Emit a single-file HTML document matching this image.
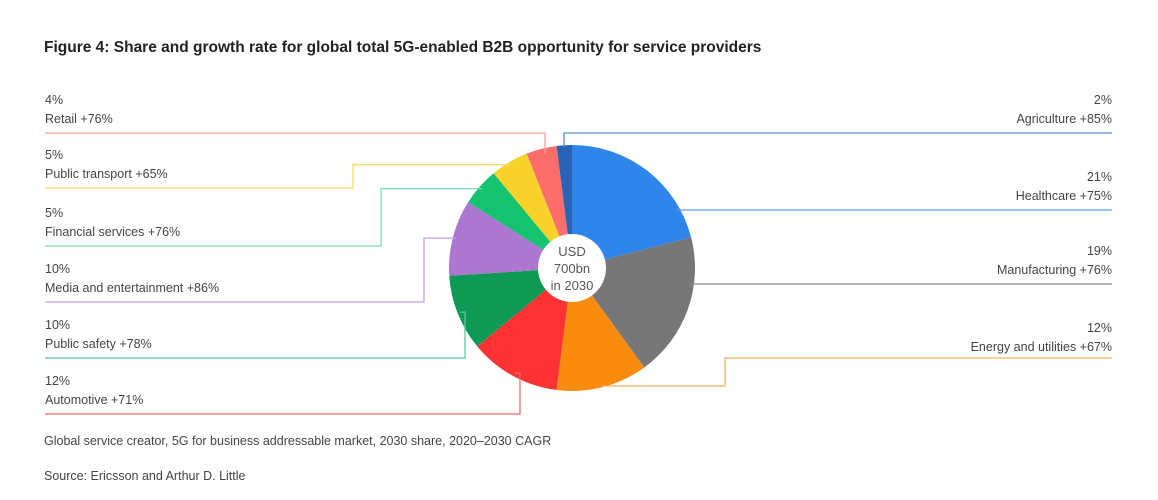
<!DOCTYPE html>
<html><head><meta charset="utf-8"><style>
body{margin:0;background:#fff;width:1158px;height:495px;overflow:hidden;font-family:"Liberation Sans",sans-serif}
svg text{font-family:"Liberation Sans",sans-serif;fill:#444;font-size:12.5px}
</style></head><body>
<svg width="1158" height="495">
<text x="44" y="52" style="font-size:15.5px;font-weight:bold;fill:#222">Figure 4: Share and growth rate for global total 5G-enabled B2B opportunity for service providers</text>
<g id="pie"></g>
<circle cx="572" cy="268" r="34" fill="#fff"/>
<text x="572" y="256" text-anchor="middle" style="font-size:13px;fill:#555">USD</text>
<text x="572" y="273" text-anchor="middle" style="font-size:13px;fill:#555">700bn</text>
<text x="572" y="290" text-anchor="middle" style="font-size:13px;fill:#555">in 2030</text>
<g id="labels"></g>
<text x="44" y="445" style="font-size:12.5px">Global service creator, 5G for business addressable market, 2030 share, 2020–2030 CAGR</text>
<text x="44" y="480" style="font-size:12.5px">Source: Ericsson and Arthur D. Little</text>
</svg>
<script>
const categories=["Healthcare","Manufacturing","Energy and utilities","Automotive","Public safety","Media and entertainment","Financial services","Public transport","Retail","Agriculture"];
const shares=[21,19,12,12,10,10,5,5,4,2];
const growth=[75,76,67,71,78,86,76,65,76,85];
const colors=["#3085eb","#777777","#f98b0e","#fd3232","#0e9a55","#ac77d0","#15c26f","#f8d12b","#fd6e6a","#2863b5"];
const ns="http://www.w3.org/2000/svg";
const cx=572,cy=268,R=123;
const total=shares.reduce((a,b)=>a+b,0);
const pie=document.getElementById('pie');
function pt(a,r){return [cx+r*Math.sin(a),cy-r*Math.cos(a)];}
let acc=0;const mids=[];
shares.forEach((v,i)=>{
 const a0=acc/total*2*Math.PI;acc+=v;const a1=acc/total*2*Math.PI;
 mids.push((a0+a1)/2);
 const p0=pt(a0,R),p1=pt(a1,R);
 const p=document.createElementNS(ns,'path');
 p.setAttribute('d',`M${cx},${cy}L${p0[0]},${p0[1]}A${R},${R} 0 ${a1-a0>Math.PI?1:0} 1 ${p1[0]},${p1[1]}Z`);
 p.setAttribute('fill',colors[i]);
 
 
 pie.appendChild(p);
});
const lab=document.getElementById('labels');
const layout=[
 ['R',210,null],['R',284,null],['R',358,725],['L',414,520],['L',358,465],['L',302,424],['L',246,381],['L',188,353],['L',133,545],['R',133,564]];
const lcolors=["#5b9be6","#8a8a8a","#fbb25e","#f26a6a","#5fc79b","#c4a2e0","#7fdcb0","#f8dc6a","#fa9d9a","#5b8ed8"];
shares.forEach((v,i)=>{
 const [side,ly,ex]=layout[i];
 const m=mids[i];const e=pt(m,R-3);
 let d;
 if(side==='R'){
  if(i===9) d=`M${ex},147L${ex},${ly}L1112,${ly}`;
  else if(i===2) d=`M${e[0]},386L725,386L725,358L1112,358`;
  else { const px=cx+Math.sqrt(Math.max(0,R*R-(ly-cy)*(ly-cy)))-4; d=`M${px},${ly}L1112,${ly}`; }
 } else {
  if(i===8) d=`M45,${ly}L${ex},${ly}L${ex},${e[1]+2}`;
  else { const ty=e[1]; d=`M45,${ly}L${ex},${ly}L${ex},${ty}L${e[0]},${ty}`; }
 }
 const p=document.createElementNS(ns,'path');
 p.setAttribute('d',d);p.setAttribute('fill','none');p.setAttribute('stroke',lcolors[i]);p.setAttribute('stroke-width','1.3');
 
 
 lab.insertBefore(p,lab.firstChild);
 const tx=side==='R'?1112:45,anchor=side==='R'?'end':'start';
 const ty=(i===2)?ly-7:ly-10;
 const t1=document.createElementNS(ns,'text');
 t1.setAttribute('x',tx);t1.setAttribute('y',ty-19);t1.setAttribute('text-anchor',anchor);t1.textContent=v+'%';
 
 
 lab.appendChild(t1);
 const t2=document.createElementNS(ns,'text');
 t2.setAttribute('x',tx);t2.setAttribute('y',ty);t2.setAttribute('text-anchor',anchor);t2.textContent=categories[i]+' +'+growth[i]+'%';
 
 
 lab.appendChild(t2);
});
</script>
</body></html>
